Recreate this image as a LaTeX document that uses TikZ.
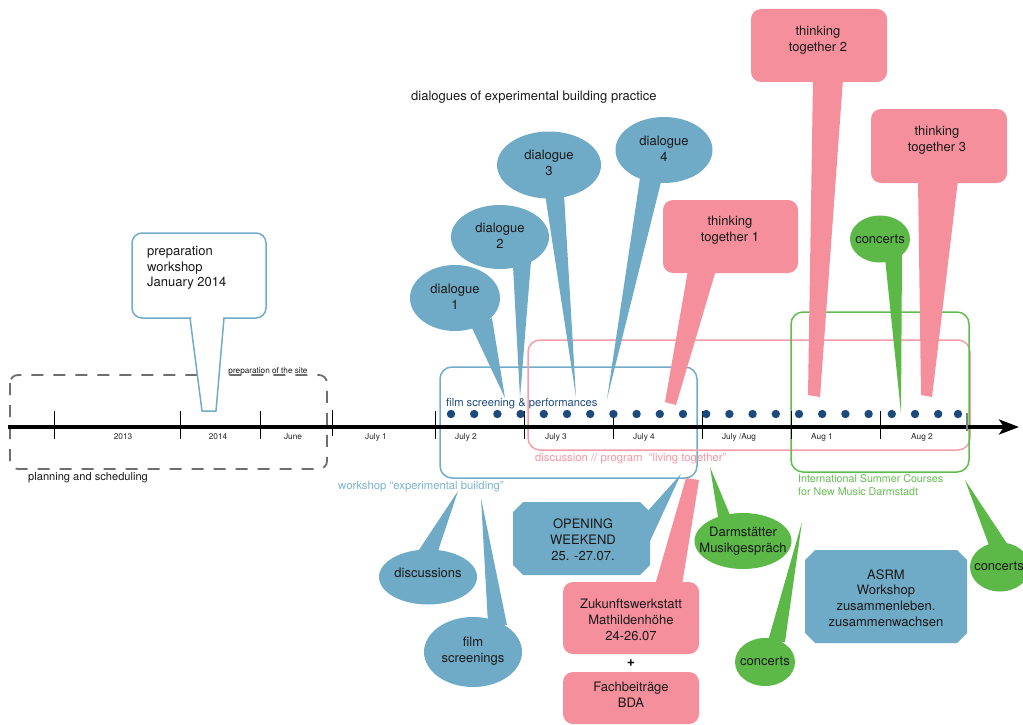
\documentclass[tikz,border=0pt]{standalone}
\usepackage{fontspec}
\setmainfont{TeX Gyre Heros}
\usetikzlibrary{shapes.geometric,arrows.meta}
\definecolor{cblue}{RGB}{111,170,198}
\definecolor{cblueline}{RGB}{112,172,202}
\definecolor{cpink}{RGB}{244,143,155}
\definecolor{cpinkline}{RGB}{245,158,168}
\definecolor{cgreen}{RGB}{92,185,72}
\definecolor{cgreenline}{RGB}{96,188,78}
\definecolor{cdot}{RGB}{28,74,124}
\definecolor{cbluetext}{RGB}{122,178,208}
\definecolor{cpinktext}{RGB}{245,150,162}
\definecolor{cgreentext}{RGB}{100,188,82}
\definecolor{cdash}{RGB}{110,110,110}
\definecolor{txtc}{RGB}{25,25,25}
\begin{document}
\begin{tikzpicture}[x=1pt,y=-1pt,
  btxt/.style={font=\fontsize{13}{15.8}\selectfont, text=txtc, align=center, inner sep=0pt},
  bell/.style={ellipse, fill=cblue, inner sep=0pt},
  gell/.style={ellipse, fill=cgreen, inner sep=0pt},
  pbox/.style={rectangle, rounded corners=10pt, fill=cpink, inner sep=0pt},
  btail/.style={fill=cblue}, ptail/.style={fill=cpink}, gtail/.style={fill=cgreen},
  tickmark/.style={line width=0.9pt, black},
  tlab/.style={font=\fontsize{8.3}{9}\selectfont, text=black!85, inner sep=0pt},
  zone/.style={line width=1.5pt, rounded corners=12pt},
  sidelab/.style={font=\fontsize{11.3}{13}\selectfont, inner sep=0pt, anchor=west}
]
\useasboundingbox (0,0) rectangle (1023,725);

% ---------- zones ----------
\draw[cdash, line width=1.8pt, dash pattern=on 12pt off 10pt, rounded corners=8pt] (10,375) rectangle (327,469);
\node[font=\fontsize{8.2}{9}\selectfont, inner sep=0pt, text=txtc] (site) at (268,371) {preparation of the site};
\node[sidelab, text=txtc, font=\fontsize{11.1}{13}\selectfont] (plan) at (28,478) {planning and scheduling};

\draw[zone, cblueline] (440,367) rectangle (697,478);
\draw[zone, cpinkline] (528,340) rectangle (970,450);
\draw[zone, cgreenline] (791,312) rectangle (969,472);

\node[sidelab, text=cbluetext] (wslab) at (338,487) {workshop ``experimental building''};
\node[sidelab, text=cpinktext] (livlab) at (535,459) {discussion // program\ \ ``living together''};
\node[sidelab, text=cgreentext, align=left, font=\fontsize{10.7}{13.5}\selectfont, anchor=north west] (intlab) at (798,474) {International Summer Courses\\for New Music Darmstadt};

% ---------- timeline ----------
\coordinate (tlstart) at (8,427);
\coordinate (tlend) at (1019,427);
\draw[line width=3.6pt, -{Stealth[length=20pt,width=15pt,inset=5pt]}] (tlstart) -- (tlend);
\foreach \x in {54,180,260,435,524,613,702,791,880}
  \draw[tickmark] (\x,411) -- (\x,439);
\draw[tickmark] (332,410) -- (332,436);
\draw[gray, line width=2pt] (967,413) -- (967,431);

\node[tlab] (y13) at (123,437) {2013};
\node[tlab] (y14) at (218,437) {2014};
\node[tlab] (jun) at (293,437) {June};
\node[tlab] (jl1) at (376,437) {July 1};
\node[tlab] (jl2) at (466,437) {July 2};
\node[tlab] (jl3) at (556,437) {July 3};
\node[tlab] (jl4) at (644,437) {July 4};
\node[tlab] (jla) at (739,437) {July /Aug};
\node[tlab] (au1) at (822,437) {Aug 1};
\node[tlab] (au2) at (922,437) {Aug 2};

\foreach \i in {0,...,21}
  \fill[cdot] (451+23.2*\i,414) circle (4.2pt);
\fill[cdot] (958,414) circle (4.2pt);
\node[font=\fontsize{11.2}{13}\selectfont, text=cdot, inner sep=0pt, anchor=west] (film) at (446,404) {film screening \& performances};

% ---------- title ----------
\node[font=\fontsize{13}{15}\selectfont, text=txtc, inner sep=0pt, anchor=west] (title) at (411,97) {dialogues of experimental building practice};

% ---------- preparation workshop callout ----------
\node[draw=cblueline, line width=1.5pt, fill=white, rounded corners=10pt, minimum width=134pt, minimum height=85pt, inner sep=0pt] (prep) at (199,275.5) {};
\filldraw[cblueline, line width=1.5pt, fill=white, line join=round] (190,318) -- (202,411) -- (216,411) -- (224,318);
\draw[white, line width=2.2pt] (191.5,318) -- (222.5,318);
\node[btxt, align=left, anchor=west] (prept) at (147,268) {preparation\\workshop\\January 2014};

% ---------- tails ----------
\coordinate (d1tip) at (505,398);
\coordinate (d2tip) at (520,398);
\coordinate (d3tip) at (576,397);
\coordinate (d4tip) at (607,399);
\fill[btail] (472,328) -- (d1tip) -- (492,318) -- cycle;
\fill[btail] (513,266) -- (d2tip) -- (531,261) -- cycle;
\fill[btail] (545,194) -- (d3tip) -- (564,194) -- cycle;
\fill[btail] (640,178) -- (d4tip) -- (662,178) -- cycle;
\fill[ptail] (688,270) -- (665,402) -- (676,405) -- (716,270) -- cycle;
\fill[ptail] (813,79) -- (808,395) -- (820,397) -- (843,79) -- cycle;
\fill[ptail] (918,180) -- (921,395) -- (932,397) -- (958,180) -- cycle;
\coordinate (ctip) at (901,413);
\fill[gtail] (885,258) -- (ctip) -- (902,253) -- cycle;

\coordinate (distip) at (458,491);
\coordinate (filmtip) at (481,498);
\coordinate (optip) at (681,474);
\coordinate (dmtip) at (710,467);
\coordinate (cmtip) at (802,522);
\coordinate (crtip) at (965,480);
\fill[btail] (417,553) -- (distip) -- (438,551) -- cycle;
\fill[btail] (488,624) -- (filmtip) -- (507,625) -- cycle;
\fill[btail] (645,514) -- (optip) -- (645,552) -- cycle;
\fill[ptail] (655,585) -- (686,478) -- (699,480) -- (682,585) -- cycle;
\fill[gtail] (718,517) -- (dmtip) -- (730,515) -- cycle;
\fill[gtail] (768,641) -- (cmtip) -- (785,642) -- cycle;
\fill[gtail] (990,548) -- (crtip) -- (1010,548) -- cycle;

% ---------- bubbles ----------
\node[bell, minimum width=90pt, minimum height=66pt] (d1) at (455,298) {};
\node[btxt] (d1t) at (455,297) {dialogue\\1};
\node[bell, minimum width=98pt, minimum height=64pt] (d2) at (500,237) {};
\node[btxt] (d2t) at (500,236) {dialogue\\2};
\node[bell, minimum width=104pt, minimum height=67pt] (d3) at (549,165) {};
\node[btxt] (d3t) at (549,163) {dialogue\\3};
\node[bell, minimum width=97pt, minimum height=66pt] (d4) at (664,150) {};
\node[btxt] (d4t) at (664,149) {dialogue\\4};

\node[pbox, minimum width=135pt, minimum height=73pt] (tt1) at (730.5,236.5) {};
\node[btxt] (tt1t) at (730,230) {thinking\\together 1};
\node[pbox, minimum width=136pt, minimum height=73pt] (tt2) at (819,45.5) {};
\node[btxt] (tt2t) at (818,40) {thinking\\together 2};
\node[pbox, minimum width=136pt, minimum height=74pt] (tt3) at (939,146) {};
\node[btxt] (tt3t) at (937,140) {thinking\\together 3};

\node[gell, minimum width=60pt, minimum height=47pt] (c1) at (880,239) {};
\node[btxt] (c1t) at (880,239) {concerts};

\node[bell, minimum width=98pt, minimum height=55pt] (disc) at (428,577) {};
\node[btxt] (disct) at (428,573) {discussions};
\node[bell, minimum width=98pt, minimum height=70pt] (fs) at (473,652) {};
\node[btxt] (fst) at (473,651) {film\\screenings};

% OPENING WEEKEND (chamfered box)
\fill[cblue] (523,502) -- (640,502) -- (650,512) -- (650,565) -- (640,575) -- (523,575) -- (513,565) -- (513,512) -- cycle;
\node[inner sep=0pt, minimum width=137pt, minimum height=73pt] (open) at (581.5,538.5) {};
\node[btxt] (opent) at (583,540) {OPENING\\WEEKEND\\25. -27.07.};

\node[pbox, minimum width=136pt, minimum height=72pt] (zw) at (631,618) {};
\node[btxt] (zwt) at (631,620) {Zukunftswerkstatt\\Mathildenhöhe\\24-26.07};
\node[font=\fontsize{14}{16}\selectfont\bfseries, inner sep=0pt] (plus) at (631,663) {+};
\node[pbox, minimum width=136pt, minimum height=52pt] (fb) at (631,698) {};
\node[btxt] (fbt) at (631,695) {Fachbeiträge\\BDA};

\node[gell, minimum width=97pt, minimum height=56pt] (dm) at (743,541) {};
\node[btxt] (dmt) at (743,541) {Darmstätter\\Musikgespräch};
\node[gell, minimum width=60pt, minimum height=48pt] (c2) at (765,662) {};
\node[btxt] (c2t) at (765,661) {concerts};
\node[gell, minimum width=60pt, minimum height=49pt] (c3) at (1000,567) {};
\node[btxt] (c3t) at (999,566) {concerts};

% ASRM (chamfered box)
\fill[cblue] (815,550) -- (957,550) -- (967,560) -- (967,633) -- (957,643) -- (815,643) -- (805,633) -- (805,560) -- cycle;
\node[inner sep=0pt, minimum width=162pt, minimum height=93pt] (asrm) at (886,596.5) {};
\node[btxt] (asrmt) at (886,598) {ASRM\\Workshop\\zusammenleben.\\zusammenwachsen};
\end{tikzpicture}
\end{document}
